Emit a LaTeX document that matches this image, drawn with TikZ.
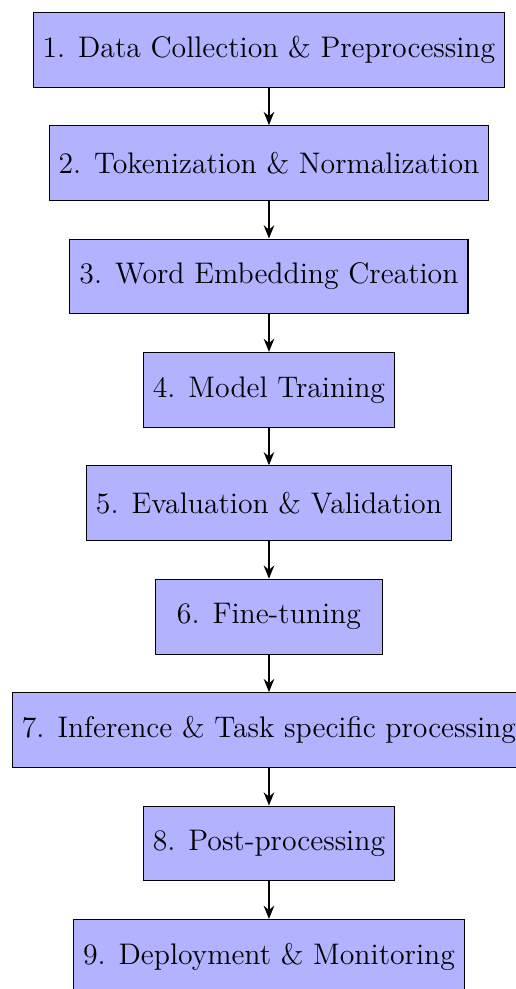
\documentclass[tikz,border=0pt]{standalone}
\usetikzlibrary{positioning,arrows.meta}
\begin{document}
\begin{tikzpicture}[
  stepbox/.style={draw, fill=blue!30, minimum height=1cm, minimum width=3.03cm, inner sep=3.6pt, font=\fontsize{11.3}{13.6}\selectfont},
  conn/.style={-{Stealth[length=5pt,width=4pt]}, thick},
  node distance=0.5cm
]
\useasboundingbox (-3.591,0.663) rectangle (3.298,-12.541);
\node[stepbox] (s1) at (0,0) {1. Data Collection \& Preprocessing};
\node[stepbox, below=of s1] (s2) {2. Tokenization \& Normalization};
\node[stepbox, below=of s2] (s3) {3. Word Embedding Creation};
\node[stepbox, below=of s3] (s4) {4. Model Training};
\node[stepbox, below=of s4] (s5) {5. Evaluation \& Validation};
\node[stepbox, below=of s5] (s6) {6. Fine-tuning};
\node[stepbox, below=of s6] (s7) {7. Inference \& Task specific processing};
\node[stepbox, below=of s7] (s8) {8. Post-processing};
\node[stepbox, below=of s8] (s9) {9. Deployment \& Monitoring};
\foreach \a/\b in {s1/s2,s2/s3,s3/s4,s4/s5,s5/s6,s6/s7,s7/s8,s8/s9}
  \draw[conn] (\a) -- (\b);
\end{tikzpicture}
\end{document}
